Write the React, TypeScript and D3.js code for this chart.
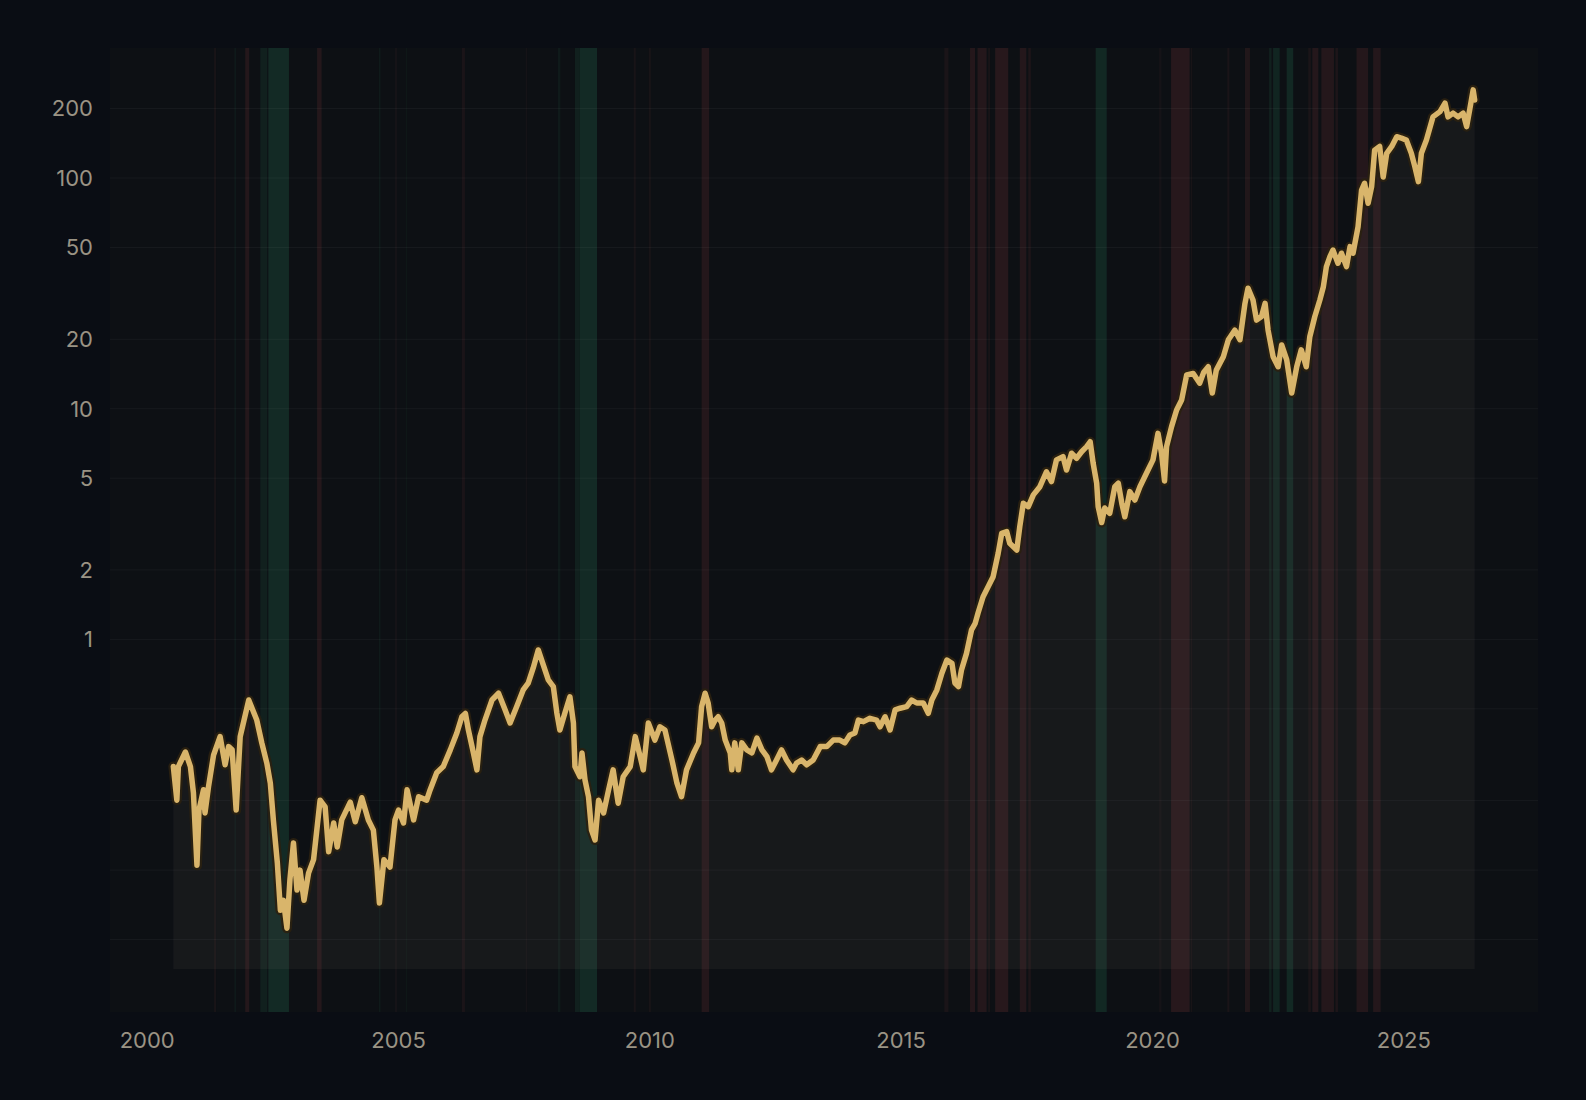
import React from 'react';
import * as d3 from 'd3';

const W = 1586;
const H = 1100;
const PLOT = { left: 110, top: 48, right: 1538, bottom: 1012 };

const xDomain: [number, number] = [1999.26, 2027.67];
const yDomain: [number, number] = [0.02426, 366];
const yLabelTicks = [1, 2, 5, 10, 20, 50, 100, 200];
const yGridTicks = [0.05, 0.1, 0.2, 0.5, 1, 2, 5, 10, 20, 50, 100, 200];
const xTicks = [2000, 2005, 2010, 2015, 2020, 2025];
const areaFloor = 0.0373;

// [decimal year, value]
const priceSeries: [number, number][] = [
  [2000.52,0.281],[2000.59,0.201],[2000.62,0.281],[2000.76,0.325],[2000.86,0.281],[2000.92,0.216],[2000.99,0.105],[2001.03,0.182],[2001.12,0.223],[2001.15,0.177],
  [2001.22,0.230],[2001.32,0.315],[2001.45,0.379],[2001.55,0.286],[2001.62,0.343],[2001.69,0.332],[2001.77,0.182],[2001.85,0.379],[2002.02,0.546],[2002.18,0.447],
  [2002.28,0.356],[2002.38,0.291],[2002.45,0.238],[2002.51,0.165],[2002.59,0.107],[2002.65,0.067],[2002.71,0.074],[2002.78,0.056],[2002.84,0.091],[2002.91,0.131],
  [2002.98,0.082],[2003.04,0.100],[2003.12,0.074],[2003.21,0.097],[2003.31,0.111],[2003.44,0.201],[2003.54,0.188],[2003.61,0.120],[2003.71,0.160],[2003.78,0.126],
  [2003.87,0.165],[2004.04,0.197],[2004.14,0.162],[2004.27,0.206],[2004.40,0.165],[2004.50,0.149],[2004.57,0.103],[2004.62,0.072],[2004.71,0.111],[2004.83,0.103],
  [2004.93,0.165],[2005.00,0.182],[2005.10,0.160],[2005.17,0.223],[2005.30,0.165],[2005.40,0.208],[2005.56,0.201],[2005.63,0.223],[2005.76,0.264],[2005.89,0.281],
  [2006.03,0.332],[2006.16,0.393],[2006.26,0.462],[2006.33,0.478],[2006.39,0.405],[2006.49,0.322],[2006.56,0.272],[2006.62,0.379],[2006.72,0.447],[2006.86,0.546],
  [2006.99,0.584],[2007.12,0.495],[2007.22,0.434],[2007.35,0.511],[2007.48,0.604],[2007.58,0.647],[2007.68,0.752],[2007.78,0.900],[2007.88,0.775],[2007.98,0.667],
  [2008.08,0.624],[2008.15,0.480],[2008.21,0.405],[2008.31,0.480],[2008.41,0.564],[2008.48,0.434],[2008.51,0.281],[2008.61,0.254],[2008.65,0.322],[2008.71,0.246],
  [2008.78,0.208],[2008.84,0.149],[2008.91,0.135],[2008.98,0.201],[2009.08,0.177],[2009.18,0.223],[2009.27,0.272],[2009.37,0.195],[2009.47,0.254],[2009.61,0.281],
  [2009.71,0.379],[2009.81,0.309],[2009.87,0.272],[2009.97,0.434],[2010.10,0.366],[2010.20,0.418],[2010.30,0.405],[2010.44,0.300],[2010.54,0.238],[2010.63,0.208],
  [2010.73,0.272],[2010.87,0.322],[2010.97,0.356],[2011.03,0.511],[2011.10,0.584],[2011.16,0.530],[2011.23,0.418],[2011.30,0.447],[2011.36,0.462],[2011.43,0.434],
  [2011.50,0.366],[2011.60,0.322],[2011.63,0.272],[2011.69,0.356],[2011.76,0.272],[2011.83,0.356],[2011.93,0.332],[2012.03,0.322],[2012.13,0.373],[2012.23,0.332],
  [2012.33,0.310],[2012.42,0.272],[2012.52,0.300],[2012.62,0.332],[2012.72,0.300],[2012.85,0.272],[2012.92,0.291],[2013.02,0.300],[2013.12,0.286],[2013.25,0.300],
  [2013.39,0.343],[2013.52,0.343],[2013.65,0.366],[2013.78,0.366],[2013.88,0.356],[2013.98,0.385],[2014.08,0.393],[2014.15,0.447],[2014.25,0.440],[2014.38,0.455],
  [2014.51,0.447],[2014.58,0.418],[2014.68,0.462],[2014.78,0.405],[2014.88,0.495],[2014.98,0.503],[2015.11,0.511],[2015.21,0.546],[2015.31,0.530],[2015.44,0.530],
  [2015.54,0.478],[2015.61,0.546],[2015.71,0.604],[2015.81,0.713],[2015.91,0.814],[2016.01,0.788],[2016.07,0.647],[2016.14,0.624],[2016.20,0.737],[2016.30,0.870],
  [2016.40,1.10],[2016.47,1.17],[2016.53,1.30],[2016.63,1.53],[2016.73,1.69],[2016.83,1.87],[2016.93,2.36],[2017.00,2.88],[2017.10,2.93],[2017.16,2.61],
  [2017.30,2.44],[2017.36,3.08],[2017.43,3.89],[2017.53,3.76],[2017.63,4.23],[2017.76,4.59],[2017.89,5.33],[2017.99,4.83],[2018.09,6.00],[2018.22,6.20],
  [2018.29,5.42],[2018.39,6.41],[2018.49,6.10],[2018.59,6.51],[2018.69,6.85],[2018.76,7.19],[2018.82,5.80],[2018.89,4.75],[2018.92,3.76],[2018.99,3.21],
  [2019.05,3.71],[2019.15,3.52],[2019.25,4.59],[2019.32,4.75],[2019.39,3.89],[2019.45,3.40],[2019.55,4.37],[2019.65,4.02],[2019.75,4.59],[2019.88,5.25],
  [2020.01,6.00],[2020.11,7.82],[2020.18,6.41],[2020.24,4.86],[2020.28,6.85],[2020.38,8.36],[2020.48,9.87],[2020.58,10.9],[2020.68,14.0],[2020.81,14.2],
  [2020.94,12.9],[2021.02,14.4],[2021.11,15.2],[2021.19,11.7],[2021.27,14.7],[2021.41,16.8],[2021.51,19.9],[2021.64,21.9],[2021.74,19.9],[2021.84,28.6],
  [2021.90,33.3],[2022.00,29.6],[2022.07,24.2],[2022.17,25.1],[2022.24,28.6],[2022.30,21.9],[2022.40,16.8],[2022.50,15.2],[2022.57,18.9],[2022.67,16.3],
  [2022.77,11.7],[2022.87,15.2],[2022.96,18.0],[2023.06,15.2],[2023.13,20.5],[2023.23,25.1],[2023.33,29.6],[2023.40,33.8],[2023.46,41.3],[2023.53,45.6],
  [2023.59,48.7],[2023.69,42.7],[2023.76,47.2],[2023.86,41.3],[2023.93,50.4],[2023.99,47.2],[2024.09,61.5],[2024.16,88.7],[2024.22,94.9],[2024.29,77.7],
  [2024.36,91.7],[2024.42,132],[2024.52,137],[2024.59,101],[2024.66,128],[2024.76,137],[2024.86,151],[2024.95,149],[2025.05,146],[2025.15,128],
  [2025.22,112],[2025.29,96.4],[2025.35,128],[2025.45,146],[2025.58,184],[2025.72,194],[2025.82,211],[2025.88,184],[2025.98,191],[2026.08,184],
  [2026.18,191],[2026.25,167],[2026.31,197],[2026.38,241],[2026.41,218]
];

// [start year, end year, strength]
const greenBands: [number, number, number][] = [
  [2001.74, 2001.76, 0.6], [2002.25, 2002.39, 0.6], [2002.41, 2002.82, 1.0], [2004.61, 2004.64, 0.4],
  [2005.15, 2005.17, 0.3], [2008.17, 2008.22, 0.4], [2008.51, 2008.61, 0.6], [2008.61, 2008.95, 1.0],
  [2018.87, 2019.09, 0.9], [2022.32, 2022.37, 0.6], [2022.40, 2022.53, 0.8], [2022.67, 2022.80, 0.9],
];
const redBands: [number, number, number][] = [
  [2001.33, 2001.37, 0.4], [2001.95, 2002.03, 0.8], [2003.38, 2003.47, 0.8], [2004.93, 2004.97, 0.3],
  [2006.26, 2006.32, 0.5], [2007.53, 2007.56, 0.3], [2009.68, 2009.72, 0.4], [2009.98, 2010.02, 0.4],
  [2011.03, 2011.18, 0.8], [2015.86, 2015.94, 0.5], [2016.37, 2016.47, 0.8], [2016.52, 2016.70, 0.8],
  [2016.73, 2016.77, 0.4], [2016.87, 2017.13, 0.9], [2017.36, 2017.49, 0.8], [2017.53, 2017.58, 0.6],
  [2020.13, 2020.18, 0.3], [2020.37, 2020.74, 0.9], [2020.76, 2020.79, 0.4], [2021.49, 2021.53, 0.5],
  [2021.84, 2021.94, 0.7], [2023.10, 2023.15, 0.5], [2023.18, 2023.30, 0.8], [2023.36, 2023.61, 0.8],
  [2023.64, 2023.69, 0.6], [2024.06, 2024.29, 0.8], [2024.39, 2024.54, 0.8],
];

const FONT = 'Inter, "Noto Sans", sans-serif';
const LABEL = '#9a9384';

export default function App() {
  const x = d3.scaleLinear().domain(xDomain).range([PLOT.left, PLOT.right]);
  const y = d3.scaleLog().domain(yDomain).range([PLOT.bottom, PLOT.top]);

  const lineGen = d3
    .line<[number, number]>()
    .x((d) => x(d[0]))
    .y((d) => y(d[1]))
    .curve(d3.curveLinear);
  const areaGen = d3
    .area<[number, number]>()
    .x((d) => x(d[0]))
    .y0(y(areaFloor))
    .y1((d) => y(d[1]))
    .curve(d3.curveLinear);

  const linePath = lineGen(priceSeries) || '';
  const areaPath = areaGen(priceSeries) || '';
  const pw = PLOT.right - PLOT.left;
  const ph = PLOT.bottom - PLOT.top;

  return (
    <div style={{ position: 'absolute', left: 0, top: 0, width: W, height: H, background: '#0a0d14' }}>
      <svg width={W} height={H} style={{ display: 'block' }}>
        <defs>
          <clipPath id="plotClip">
            <rect x={PLOT.left} y={PLOT.top} width={pw} height={ph} />
          </clipPath>
        </defs>
        <rect x={0} y={0} width={W} height={H} fill="#0a0d14" />
        <rect x={PLOT.left} y={PLOT.top} width={pw} height={ph} fill="#0d1014" />
        <g clipPath="url(#plotClip)">
          {greenBands.map((b, i) => (
            <rect
              key={'g' + i}
              x={x(b[0])}
              y={PLOT.top}
              width={Math.max(1, x(b[1]) - x(b[0]))}
              height={ph}
              fill="rgb(46,150,105)"
              opacity={0.2 * b[2]}
            />
          ))}
          {redBands.map((b, i) => (
            <rect
              key={'r' + i}
              x={x(b[0])}
              y={PLOT.top}
              width={Math.max(1, x(b[1]) - x(b[0]))}
              height={ph}
              fill="rgb(190,75,75)"
              opacity={0.16 * b[2]}
            />
          ))}
          {yGridTicks.map((t) => (
            <line
              key={'gy' + t}
              x1={PLOT.left}
              x2={PLOT.right}
              y1={y(t)}
              y2={y(t)}
              stroke="rgba(255,255,255,0.045)"
              strokeWidth={1}
            />
          ))}
          <path d={areaPath} fill="rgba(215,200,175,0.05)" />
          <path
            d={linePath}
            fill="none"
            stroke="rgba(42,33,16,0.92)"
            strokeWidth={10}
            strokeLinejoin="round"
            strokeLinecap="round"
          />
          <path
            d={linePath}
            fill="none"
            stroke="#d9b56b"
            strokeWidth={5.5}
            strokeLinejoin="round"
            strokeLinecap="round"
          />
        </g>
        {yLabelTicks.map((t) => (
          <text
            key={'ly' + t}
            x={93}
            y={y(t)}
            dy="0.36em"
            textAnchor="end"
            fontFamily={FONT}
            fontSize={22}
            fill={LABEL}
          >
            {d3.format('d')(t)}
          </text>
        ))}
        {xTicks.map((t) => (
          <text
            key={'lx' + t}
            x={x(t)}
            y={1048}
            textAnchor="middle"
            fontFamily={FONT}
            fontSize={22}
            fill={LABEL}
          >
            {t}
          </text>
        ))}
      </svg>
    </div>
  );
}
